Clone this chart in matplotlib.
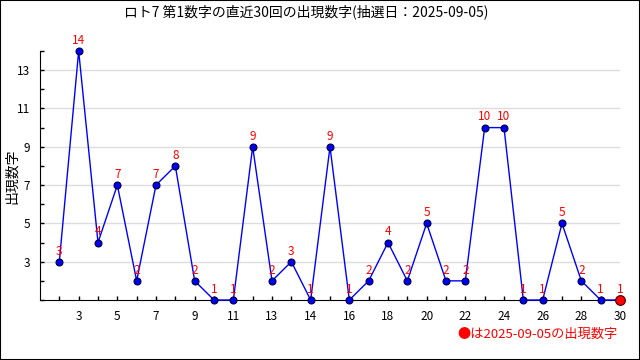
import matplotlib
matplotlib.use("Agg")
import matplotlib.pyplot as plt
from matplotlib.patches import Rectangle

plt.rcParams['font.family'] = ['Noto Sans CJK JP', 'DejaVu Sans']

# draw number for each of the last 30 draws
draws = list(range(1, 31))
values = [3, 14, 4, 7, 2, 7, 8, 2, 1, 1, 9, 2, 3, 1, 9, 1, 2, 4, 2, 5,
          2, 2, 10, 10, 1, 1, 5, 2, 1, 1]
xtick_pos = [2, 4, 6, 8, 10, 12, 14, 16, 18, 20, 22, 24, 26, 28, 30]
xtick_labels = ['3', '5', '7', '9', '11', '13', '14', '16', '18', '20',
                '22', '24', '26', '28', '30']
ytick_pos = [3, 5, 7, 9, 11, 13]
draw_date = '2025-09-05'

fig = plt.figure(figsize=(6.4, 3.6), dpi=100)
ax = fig.add_axes([40 / 640, 60 / 360, 580 / 640, 249 / 360])

for y in ytick_pos:
    ax.axhline(y, color='#dddddd', lw=1, zorder=0)

ax.plot(draws, values, color='#0000ff', lw=1, marker='o', ms=5,
        mfc='#0000ee', mec='#000044', mew=0.8, zorder=3, clip_on=False)
ax.plot(draws[-1], values[-1], marker='o', ms=7, mfc='#ff0000',
        mec='#440000', mew=0.8, zorder=4, clip_on=False)

for x, v in zip(draws, values):
    ax.annotate(str(v), (x, v), xytext=(0, 3), textcoords='offset points',
                ha='center', va='bottom', color='#ff0000', fontsize=8.5)

ax.set_xlim(0, 30)
ax.set_ylim(1, 14)
ax.set_xticks(xtick_pos)
ax.set_xticklabels(xtick_labels)
ax.set_xticks(range(1, 31), minor=True)
ax.set_yticks(ytick_pos)
ax.set_yticks(range(1, 15), minor=True)
ax.tick_params(which='both', direction='in', length=3, width=1,
               labelsize=8.5, pad=7)
ax.spines['top'].set_visible(False)
ax.spines['right'].set_visible(False)

fig.text(12 / 640, 1 - 176 / 360, '出現数字', rotation=90,
         ha='center', va='center', fontsize=10)
fig.text(306 / 640, 1 - 12 / 360, 'ロト7 第1数字の直近30回の出現数字(抽選日：' + draw_date + ')',
         ha='center', va='center', fontsize=10)
fig.text(618 / 640, 1 - 334 / 360, '●は' + draw_date + 'の出現数字',
         ha='right', va='center', color='#ff0000', fontsize=9.5)

fig.patches.append(Rectangle((0, 0), 1, 1, transform=fig.transFigure,
                             fill=False, edgecolor='black', lw=1.5))

fig.savefig('out.png', dpi=100)
